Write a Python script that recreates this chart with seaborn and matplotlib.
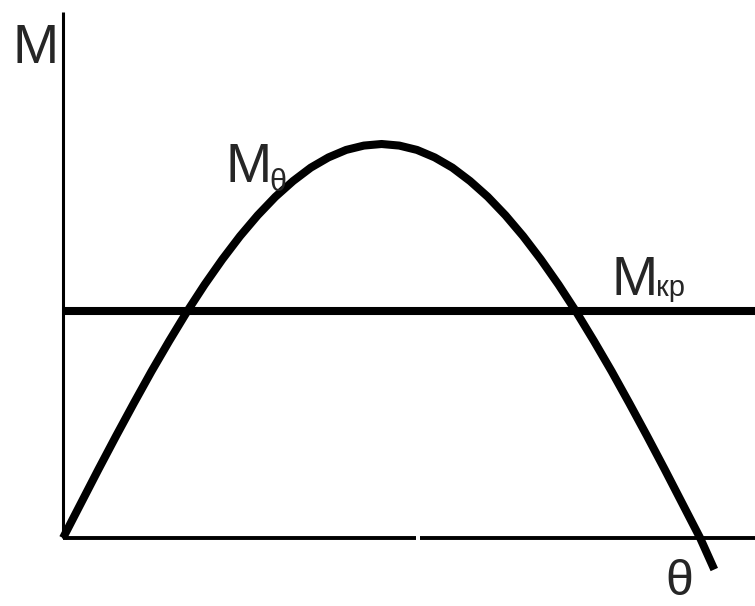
import numpy as np
import pandas as pd
import matplotlib
matplotlib.use('Agg')
import matplotlib.pyplot as plt
import seaborn as sns

# Load angle (deg) and torque M(theta) (peak = 1)
theta = [0, 5, 10, 15, 20, 25, 30, 35, 40, 45, 50, 55, 60, 65, 70, 75, 80, 85, 90,
         95, 100, 105, 110, 115, 120, 125, 130, 135, 140, 145, 150, 155, 160, 165,
         170, 175, 180, 184]
m_theta = [0.0, 0.087, 0.174, 0.259, 0.342, 0.423, 0.5, 0.574, 0.643, 0.707, 0.766,
           0.819, 0.866, 0.906, 0.94, 0.966, 0.985, 0.996, 1.0, 0.996, 0.985, 0.966,
           0.94, 0.906, 0.866, 0.819, 0.766, 0.707, 0.643, 0.574, 0.5, 0.423, 0.342,
           0.259, 0.174, 0.087, 0.0, -0.08]

# critical (load) torque level
m_kp = 0.576
kp_span = [0, 195.5]

# axis extents
x_axis_parts = [(0, 99.7), (100.9, 195.5)]
y_axis_top = 1.335

df = pd.DataFrame({'theta': theta, 'M': m_theta})
df_kp = pd.DataFrame({'theta': kp_span, 'M': [m_kp, m_kp]})

sns.set_style('white')
fam = ['Liberation Sans Narrow', 'Liberation Sans', 'DejaVu Sans']
plt.rcParams['font.family'] = fam

fig = plt.figure(figsize=(7.55, 6.06), dpi=100)
ax = fig.add_axes([0, 0, 1, 1])
ax.set_xlim(-17.8, 195.5)
ax.set_ylim(-0.1726, 1.3655)
ax.axis('off')

# axes lines
for a, b in x_axis_parts:
    ax.plot([a, b], [0, 0], color='black', lw=2.8, solid_capstyle='butt')
ax.plot([0, 0], [0, y_axis_top], color='black', lw=2.2, solid_capstyle='butt')

# curves
sns.lineplot(data=df, x='theta', y='M', ax=ax, color='black', lw=5.8,
             sort=False, legend=False)
sns.lineplot(data=df_kp, x='theta', y='M', ax=ax, color='black', lw=5.8,
             legend=False)
for ln in ax.lines:
    ln.set_solid_capstyle('butt')

ax.text(-14.4, 1.206, 'M', fontsize=40, va='baseline', ha='left')
ax.text(45.8, 0.904, 'M', fontsize=40, va='baseline', ha='left')
ax.text(58.4, 0.88, 'θ', fontsize=22, va='baseline', ha='left')
ax.text(155.1, 0.617, 'M', fontsize=40, va='baseline', ha='left')
ax.text(167.4, 0.613, 'кр', fontsize=21, va='baseline', ha='left')
ax.text(170.1, -0.145, 'θ', fontsize=36, va='baseline', ha='left')

fig.savefig('out.png', dpi=100)
